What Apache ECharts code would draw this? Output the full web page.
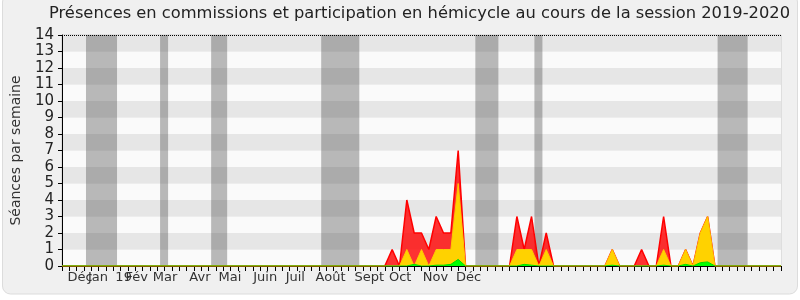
<!DOCTYPE html>
<html><head><meta charset="utf-8">
<script src="https://cdn.jsdelivr.net/npm/echarts@6/dist/echarts.min.js"></script>
<style>html,body{margin:0;padding:0;background:#fff}#c{width:800px;height:300px}</style>
</head><body><div id="c"></div>
<script>
// week index 0..98
const weekCount = 99;
// sparse values per week: [week, value]
const redPoints = [[45,1],[47,4],[48,2],[49,2],[50,1],[51,3],[52,2],[53,2],[54,7],
  [62,3],[63,1],[64,3],[66,2],[75,1],[79,1],[82,3],[85,1],[87,2],[88,3]];
const yellowPoints = [[47,1],[49,1],[51,1],[52,1],[53,1],[54,5],
  [62,1],[63,1],[64,1],[66,1],[75,1],[82,1],[85,1],[87,2],[88,3]];
const greenPoints = [[48,0.1],[51,0.05],[52,0.05],[53,0.1],[54,0.4],[63,0.1],[64,0.05],
  [75,0.05],[82,0.05],[85,0.1],[87,0.2],[88,0.25]];
// vacation bands [start, end] in week units
const vacations = [[3.27,7.5],[13.37,14.46],[20.33,22.51],[35.33,40.52],[56.34,59.48],[64.39,65.48],[89.36,93.45]];
// month labels and their positions (week units)
const monthLabels = ['Déc','Jan','19','Fév','Mar','Avr','Mai','Juin','Juil','Août','Sept','Oct','Nov','Déc'];
const monthPos = [2.46,4.9,8.4,10.2,14.05,18.8,22.9,27.7,31.8,36.6,41.9,46.1,50.9,55.4];
const yTicks = [0,1,2,3,4,5,6,7,8,9,10,11,12,13,14];

function expand(points){
  const arr = [];
  for (let i=0;i<weekCount;i++) arr.push([i,0]);
  points.forEach(p=>{arr[p[0]][1]=p[1];});
  return arr;
}
const chart = echarts.init(document.getElementById('c'));
const font = 'DejaVu Sans';
function labelAxis(parity){
  const vals = monthPos.filter((v,i)=>i%2===parity);
  return {type:'value',position:'bottom',min:0,max:weekCount-1,
    axisLine:{show:false},axisTick:{show:false},splitLine:{show:false},
    axisLabel:{customValues:vals,margin:5,fontSize:13,color:'#333',fontFamily:font,
      hideOverlap:false,
      formatter:v=>{const i=monthPos.indexOf(v);return i>=0?monthLabels[i]:'';}}};
}
chart.setOption({
  animation:false,
  backgroundColor:'#ffffff',
  textStyle:{fontFamily:font},
  graphic:[{type:'rect',z:-10,shape:{x:2.5,y:-6,width:795,height:300,r:8},style:{fill:'#f0f0f0',stroke:'#dcdcdc',lineWidth:1}}],
  title:{text:'Présences en commissions et participation en hémicycle au cours de la session 2019-2020',
    left:44,top:1,textStyle:{fontFamily:font,fontSize:16.3,fontWeight:'normal',color:'#222'}},
  grid:{left:62,right:19,top:35,bottom:34,show:true,borderColor:'#cccccc',borderWidth:1,backgroundColor:'transparent'},
  xAxis:[{type:'value',min:0,max:weekCount-1,interval:1,
      axisLine:{lineStyle:{color:'#000',width:1}},
      axisTick:{length:5,lineStyle:{color:'#000'}},
      axisLabel:{show:false},splitLine:{show:false}},
    labelAxis(0), labelAxis(1)],
  yAxis:{type:'value',min:0,max:14,interval:1,
    name:'Séances par semaine',nameLocation:'middle',nameGap:39,
    nameTextStyle:{fontSize:14,color:'#333',fontFamily:font},
    axisLine:{show:true,lineStyle:{color:'#000'}},
    axisTick:{show:true,length:4,lineStyle:{color:'#000'}},
    axisLabel:{fontSize:15,color:'#222',margin:8,fontFamily:font,
      customValues:yTicks},
    splitLine:{show:false},
    splitArea:{show:true,areaStyle:{color:['#fafafa','#e6e6e6']}}},
  series:[
    {type:'line',xAxisIndex:0,data:[],z:1,silent:true,
      markArea:{silent:true,itemStyle:{color:'rgba(67,67,67,0.36)'},
        data:vacations.map(v=>[{xAxis:v[0]},{xAxis:v[1]}])},
      markLine:{silent:true,symbol:'none',label:{show:false},
        lineStyle:{type:'dotted',color:'#000',width:1},data:[{yAxis:14}]}},
    {type:'line',name:'red',xAxisIndex:0,data:expand(redPoints),symbol:'none',z:3,
      lineStyle:{color:'#ff0000',width:1.5},areaStyle:{color:'rgba(255,0,0,0.8)',opacity:1}},
    {type:'line',name:'yellow',xAxisIndex:0,data:expand(yellowPoints),symbol:'none',z:4,
      lineStyle:{color:'#ffc800',width:1},areaStyle:{color:'#ffd200',opacity:1}},
    {type:'line',name:'green',xAxisIndex:0,data:expand(greenPoints),symbol:'none',z:5,
      lineStyle:{color:'#00dd00',width:1},areaStyle:{color:'#00ff00',opacity:1}}
  ]
});
</script></body></html>
